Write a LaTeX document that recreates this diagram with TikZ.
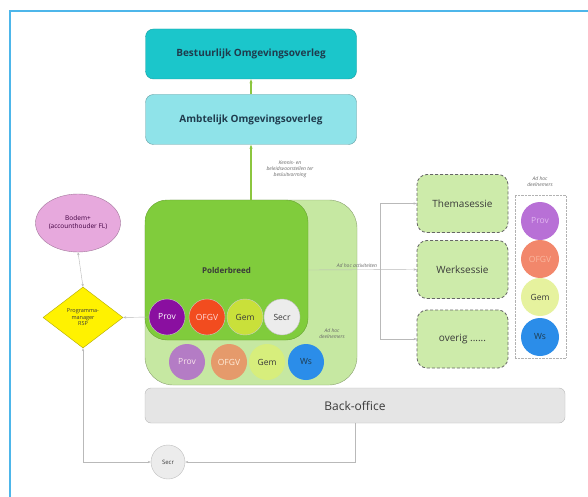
\documentclass[tikz,border=0pt]{standalone}
\usepackage{fontspec}
\setmainfont{Open Sans}
\usepackage{tikz}
\usepackage{xcolor}
\usetikzlibrary{shapes.geometric,arrows.meta}
\definecolor{framecol}{HTML}{4DB6EA}
\definecolor{tealdark}{HTML}{1BC6CB}
\definecolor{teallight}{HTML}{8FE3E9}
\definecolor{navytext}{HTML}{1F3B4D}
\definecolor{bodempink}{HTML}{E7A9DD}
\definecolor{rspyellow}{HTML}{FFF200}
\definecolor{outergreen}{HTML}{C6E8A2}
\definecolor{innergreen}{HTML}{80CC3C}
\definecolor{sessiegreen}{HTML}{CDEBAA}
\definecolor{arrowgreen}{HTML}{8CC63F}
\definecolor{darktext}{HTML}{3A3A3A}
\definecolor{provdark}{HTML}{8A0FA0}
\definecolor{ofgvdark}{HTML}{F24C1F}
\definecolor{gemdark}{HTML}{C9E03A}
\definecolor{provmid}{HTML}{B47CC5}
\definecolor{ofgvmid}{HTML}{E59A6B}
\definecolor{gemmid}{HTML}{D7EE7C}
\definecolor{wsblue}{HTML}{2B8DE9}
\definecolor{provlight}{HTML}{B870D6}
\definecolor{provlighttext}{HTML}{E2B8F0}
\definecolor{ofgvlight}{HTML}{F2876B}
\definecolor{ofgvlighttext}{HTML}{FBB79F}
\definecolor{gemlight}{HTML}{E6F29E}
\tikzset{
    overleg-box/.style = {draw, rounded corners=8pt, minimum width=211pt, minimum height=50pt, font=\bfseries\fontsize{10}{12}\selectfont, text=navytext},
    member/.style = {circle, minimum size=36pt, inner sep=0pt, font=\fontsize{8.5}{10}\selectfont},
    sessie-box/.style = {draw=gray!80!black, densely dashed, line width=0.8pt, fill=sessiegreen, rounded corners=10pt, minimum width=91pt, minimum height=58pt, font=\fontsize{10}{12}\selectfont, text=darktext},
    link/.style = {draw=gray!55, thin},
    note/.style = {font=\itshape\fontsize{5}{6}\selectfont, align=center, text=gray!80!black},
    green-arrow/.style = {draw=arrowgreen, line width=1.2pt, -{Stealth[length=4pt]}},
}
\begin{document}
\begin{tikzpicture}[x=1pt, y=-1pt]
\useasboundingbox (0,0) rectangle (588,497);
\fill[white] (0,0) rectangle (588,497);
\draw[framecol, line width=2pt] (10,600) -- (10,11) -- (600,11);

% overleg
\node [overleg-box, draw=tealdark!80!black, fill=tealdark] (bestuur) at (251,54) {Bestuurlijk Omgevingsoverleg};
\node [overleg-box, draw=teallight!70!black, fill=teallight] (ambtelijk) at (251,119.5) {Ambtelijk Omgevingsoverleg};

% polderbreed
\node [draw=outergreen!70!black, fill=outergreen, rounded corners=28pt, minimum width=212pt, minimum height=185pt] (adhoc) at (251,292.5) {};
\node [draw=innergreen!80!black, fill=innergreen, rounded corners=22pt, minimum width=163pt, minimum height=140pt, font=\bfseries\fontsize{8}{10}\selectfont, text=darktext] (polder) at (226.5,270) {Polderbreed};
\node [note] (adhoclabel) at (332,334) {Ad hoc\\deelnemers};

\node [member, fill=provdark, draw=white!60!gray, text=white] (pprov) at (167,317) {Prov};
\node [member, fill=ofgvdark, draw=white!60!gray, text=white!85!red] (pofgv) at (207,317) {OFGV};
\node [member, fill=gemdark, draw=white!60!gray, text=darktext] (pgem) at (245,317) {Gem};
\node [member, fill=gray!15, draw=gray!50, text=darktext] (psecr) at (282,317) {Secr};

\node [member, fill=provmid, text=white!90!purple] (aprov) at (187,362) {Prov};
\node [member, fill=ofgvmid, text=white!85!orange] (aofgv) at (229,362) {OFGV};
\node [member, fill=gemmid, text=darktext] (agem) at (267,362) {Gem};
\node [member, fill=wsblue, text=navytext] (aws) at (306,362) {Ws};

% links
\node [ellipse, draw=bodempink!70!black, fill=bodempink, minimum width=85pt, minimum height=58pt, inner sep=0pt, align=center, font=\fontsize{6.5}{8}\selectfont, text=violet!50!black] (bodem) at (78,223) {Bodem+\\(accounthouder FL)};
\node [diamond, draw=rspyellow!70!black, fill=rspyellow, minimum width=80pt, minimum height=61pt, inner sep=0pt, align=center, font=\fontsize{5.5}{6.5}\selectfont, text=darktext] (rsp) at (83,317.5) {Programma-\\manager\\RSP};

% sessies
\node [sessie-box] (thema) at (462.5,203.5) {Themasessie};
\node [sessie-box] (werk) at (462.5,269.5) {Werksessie};
\node [sessie-box] (overig) at (462.5,339) {overig ......};

\node [draw=gray!60, densely dotted, minimum width=51pt, minimum height=163pt] (deeln) at (540.5,276.5) {};
\node [note] (deelnlabel) at (540,182) {Ad hoc\\deelnemers};
\node [member, minimum size=38pt, fill=provlight, text=provlighttext] (rprov) at (540,221) {Prov};
\node [member, minimum size=38pt, fill=ofgvlight, text=ofgvlighttext] (rofgv) at (540,259) {OFGV};
\node [member, minimum size=38pt, fill=gemlight, text=darktext] (rgem) at (540,297) {Gem};
\node [member, minimum size=38pt, fill=wsblue, text=navytext] (rws) at (540,337) {Ws};

% back-office
\node [draw=gray!55, fill=gray!20, rounded corners=6pt, minimum width=420pt, minimum height=35pt, font=\fontsize{12}{14}\selectfont, text=darktext] (backoffice) at (355,405.5) {Back-office};
\node [circle, draw=gray!50, fill=gray!15, minimum size=34pt, inner sep=0pt, font=\fontsize{6}{7}\selectfont, text=darktext] (secr) at (168,462) {Secr};

% connectors
\draw [green-arrow] (ambtelijk.north) -- (bestuur.south);
\draw [green-arrow] (adhoc.north) -- (ambtelijk.south);
\node [note] (kennis) at (290,169) {Kennis- en\\beleidsvoorstellen ter\\besluitvorming};

\draw [link, {Stealth[length=3pt]}-{Stealth[length=3pt]}] (bodem.south) -- (rsp.north);
\draw [link, -{Stealth[length=3pt]}] (pprov.west) -- (rsp.east);
\draw [link, -{Stealth[length=3pt]}] (backoffice.south) |- (secr.east);
\draw [link, {Stealth[length=3pt]}-{Stealth[length=3pt]}] (secr.west) -| (rsp.south);

\coordinate (split) at (380,269.5);
\draw [link, -{Stealth[length=3pt]}] (polder.east) -- node[note, above=-1pt, pos=0.45] {Ad hoc activiteiten} (werk.west);
\draw [link, -{Stealth[length=3pt]}] (split) |- (thema.west);
\draw [link, -{Stealth[length=3pt]}] (split) |- (overig.west);
\end{tikzpicture}
\end{document}
